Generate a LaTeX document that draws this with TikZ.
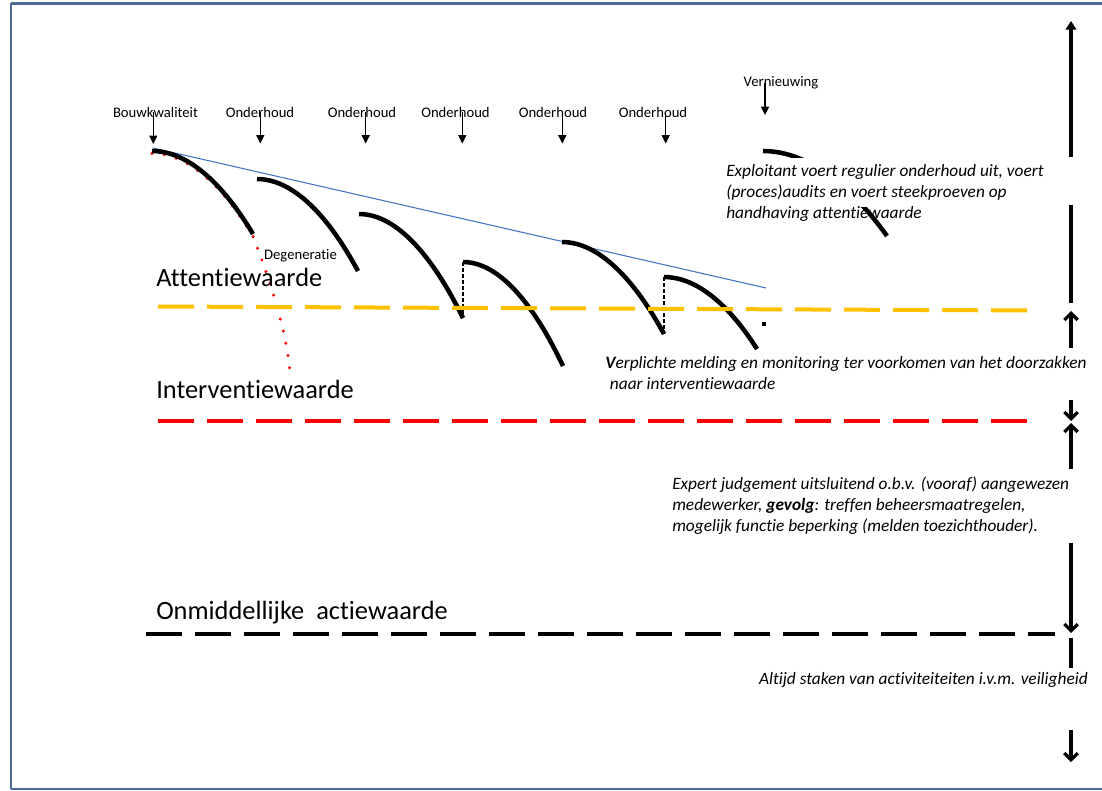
\documentclass[tikz,border=0pt]{standalone}
\usepackage{fontspec}
\setmainfont{Carlito}[Ligatures={NoCommon,NoContextual}]
\usetikzlibrary{arrows.meta}
\definecolor{framecol}{RGB}{74,106,154}
\definecolor{attcol}{RGB}{255,192,0}
\definecolor{trendcol}{RGB}{68,114,196}
\def\RightX{1071}
\def\DashOn{27pt}
\def\DashOff{9.75pt}

\tikzset{
  decay/.style={line width=3.4pt},
  degen/.style={red, line width=2.5pt, line cap=round, dash pattern=on 0pt off 9.3pt},
  trend/.style={trendcol, line width=0.8pt},
  jump/.style={line width=1pt, dash pattern=on 3pt off 1.5pt},
  level/.style={line width=3pt, dash pattern=on \DashOn off \DashOff},
  tick/.style={line width=0.8pt, -{Triangle[length=6.2pt,width=6pt]}},
  span/.style={line width=2.4pt},
  spanup/.style={span, -{Triangle[length=6.5pt,width=8pt]}},
  barb/.style={span, -{Straight Barb[length=5pt,width=10pt]}},
  lbl/.style={font=\fontsize{11pt}{13pt}\selectfont, inner sep=0pt, anchor=base},
  lvl/.style={font=\fontsize{19.8pt}{24pt}\selectfont, inner sep=0pt, anchor=base west},
  note/.style={font=\fontsize{13pt}{15.75pt}\selectfont\itshape, inner sep=0pt, align=left, anchor=north west}
}

\begin{document}
\begin{tikzpicture}[x=0.75pt,y=-0.75pt]
  \useasboundingbox (0,0) rectangle (1102,790);
  % frame
  \draw[framecol, line width=2.2pt] (1102,3.5) -- (11,3.5);
  \draw[framecol, line width=2pt] (11,2.5) -- (11,789);
  \draw[framecol, line width=1pt] (11,789) -- (1102,789);
  % decay curves
  \coordinate (A1) at (152,151);  \coordinate (B1) at (253,234);
  \coordinate (A2) at (257,179);  \coordinate (B2) at (358,271);
  \coordinate (A3) at (359,214);  \coordinate (B3) at (463,318);
  \coordinate (A4) at (463,262);  \coordinate (B4) at (563,366);
  \coordinate (A5) at (562,242);  \coordinate (B5) at (664,334);
  \coordinate (A6) at (664,277);  \coordinate (B6) at (757,349);
  \coordinate (A7) at (763,151);  \coordinate (B7) at (887,236);
  \coordinate (D) at (290,373);
  % degeneratie
  \draw[degen] ([shift={(0,2.5)}]A1) parabola ([shift={(0,2.5)}]B1)
    .. controls (267,272) and (287,330) .. (D);
  % trend
  \coordinate (T0) at (153,148);
  \coordinate (T1) at (766,288);
  \draw[trend] (T0) -- (T1);
  \foreach \i in {1,...,7}
    {
      \draw[decay] (A\i) parabola (B\i);
    }
  \fill[white] (740,158) rectangle (1062,207);
  % maintenance jumps
  \draw[jump] (A4) -- (B3);
  \draw[jump] (A6) -- (B5);
  \fill (762,322) rectangle (766,326);
  % levels
  \coordinate (att0) at (158,306.5);  \coordinate (att1) at (1032,310.5);
  \coordinate (int0) at (158,421);    \coordinate (int1) at (1031,421);
  \coordinate (act0) at (146,634);    \coordinate (act1) at (1055,634);
  \draw[level, attcol] (att0) -- (att1);
  \draw[level, red] (int0) -- (int1);
  \draw[level, black] (act0) -- (act1);
  \node[lvl] (attentie) at (156,286) {Attentiewaarde};
  \node[lvl] (interventie) at (156,398.5) {Interventiewaarde};
  \node[lvl] (actie) at (156,619.5) {Onmiddellijke\ \ actiewaarde};
  % events
  \node[lbl] (bouw) at (155.5,117) {Bouwkwaliteit};
  \node[lbl] (ond1) at (260,117) {Onderhoud};
  \node[lbl] (ond2) at (362,117) {Onderhoud};
  \node[lbl] (ond3) at (455.5,117) {Onderhoud};
  \node[lbl] (ond4) at (553,117) {Onderhoud};
  \node[lbl] (ond5) at (653,117) {Onderhoud};
  \node[lbl] (vern) at (781,86.4) {Vernieuwing};
  \node[lbl] (degen) at (300.5,259) {Degeneratie};
  \coordinate (P1) at (153.3,144);
  \coordinate (P2) at (260.3,143.5);
  \coordinate (P3) at (365.7,143.5);
  \coordinate (P4) at (462.3,143.5);
  \coordinate (P5) at (562.3,143.5);
  \coordinate (P6) at (665.7,143.5);
  \coordinate (P7) at (765,115);
  \foreach \n/\i in {bouw/1,ond1/2,ond2/3,ond3/4,ond4/5,ond5/6,vern/7}
    {
      \draw[tick] (\n.center -| P\i) -- (P\i);
    }
  % notes
  \node[note] (exploitant) at (726,164) {Exploitant voert regulier onderhoud uit, voert\\(proces)audits en voert steekproeven op\\handhaving attentiewaarde};
  \node[note] (melding) at (605,356) {\textbf{V}erplichte melding en monitoring ter voorkomen van het doorzakken\\\hspace*{3.5pt}naar interventiewaarde};
  \node[note] (expert) at (672,477) {Expert judgement uitsluitend o.b.v. (vooraf) aangewezen\\medewerker, \textbf{gevolg}: treffen beheersmaatregelen,\\mogelijk functie beperking (melden toezichthouder).};
  \node[note, anchor=base east, font=\fontsize{13pt}{15pt}\selectfont\itshape] (staken) at (1088,684) {Altijd staken van activiteiteiten i.v.m. veiligheid};
  % right axis
  \coordinate (R0) at (\RightX,21);   \coordinate (R1) at (\RightX,157);
  \coordinate (R2) at (\RightX,205);  \coordinate (R3) at (\RightX,303);
  \coordinate (R4) at (\RightX,348);  \coordinate (R5) at (\RightX,311);
  \coordinate (R6) at (\RightX,400);  \coordinate (R7) at (\RightX,421);
  \coordinate (R8) at (\RightX,469);  \coordinate (R9) at (\RightX,423);
  \coordinate (R10) at (\RightX,543); \coordinate (R11) at (\RightX,633);
  \coordinate (R12) at (\RightX,638); \coordinate (R13) at (\RightX,668);
  \coordinate (R14) at (\RightX,730); \coordinate (R15) at (\RightX,762);
  \draw[spanup] (R1) -- (R0);
  \draw[span] (R2) -- (R3);
  \draw[barb] (R4) -- (R5);
  \draw[barb] (R6) -- (R7);
  \draw[barb] (R8) -- (R9);
  \draw[barb] (R10) -- (R11);
  \draw[span] (R12) -- (R13);
  \draw[barb] (R14) -- (R15);
\end{tikzpicture}
\end{document}
